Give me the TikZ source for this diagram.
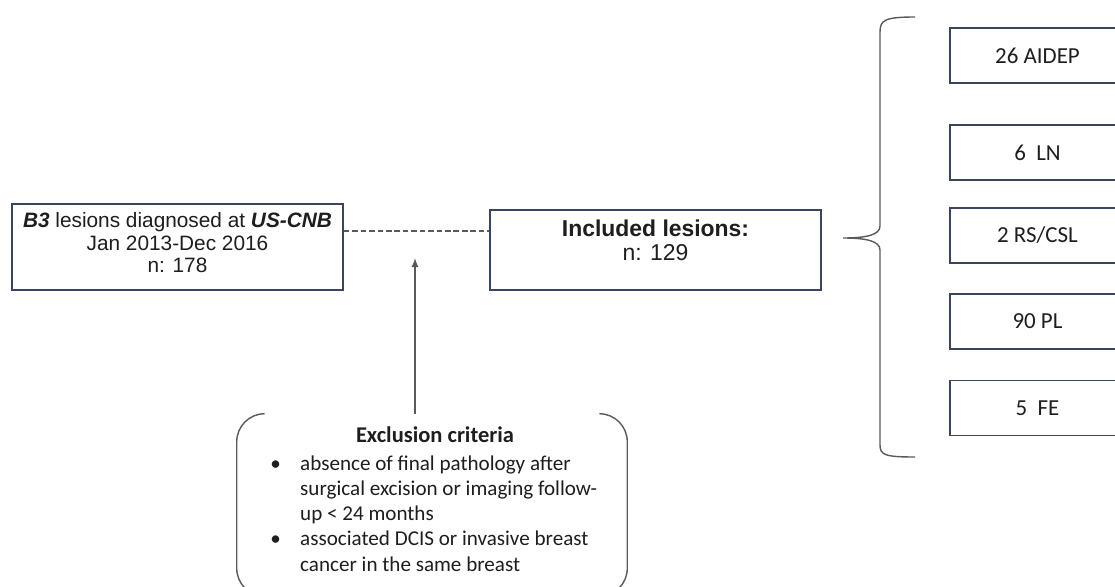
\documentclass[tikz,border=0pt]{standalone}
\usepackage{fontspec}
\setmainfont{Carlito}
\newfontfamily\arialfont{Liberation Sans}
\usepackage{tikz}
\usetikzlibrary{calc}
\usetikzlibrary{arrows}
\usetikzlibrary{positioning}
\definecolor{boxline}{RGB}{58,68,92}
\definecolor{penline}{RGB}{90,90,90}
\definecolor{inktext}{RGB}{30,30,30}
\tikzset{flowbox/.style={rectangle,draw=boxline,line width=1.1pt,fill=white,minimum width=331*0.025cm,inner sep=0pt}}
\tikzset{flowtext/.style={text=inktext,align=center,inner sep=0pt}}
\tikzset{subbox/.style={rectangle,draw=boxline,line width=1.1pt,text=inktext,minimum width=175*0.025cm,minimum height=55*0.025cm,font=\fontsize{16.3}{19}\selectfont}}

\begin{document}
\begin{tikzpicture}[x=0.025cm,y=-0.025cm]
\useasboundingbox (0,0) rectangle (1115,586);
\clip (0,0) rectangle (1115,586);

\node[flowbox,minimum height=86*0.025cm] (src) at (177.5,247) {};
\node[flowtext,font=\arialfont\fontsize{14.8}{16}\selectfont] (srctext) at (177.5,243) {\textbf{\textit{B3}} lesions diagnosed at \textbf{\textit{US-CNB}}\\Jan 2013-Dec 2016\\n: 178};
\node[flowbox,minimum height=80*0.025cm] (incl) at (655.5,250) {};
\node[flowtext,font=\arialfont\fontsize{16.3}{17}\selectfont] (incltext) at (655.5,240) {\textbf{Included lesions:}\\n: 129};
\coordinate (dashy) at (0,231);
\draw[penline,dash pattern=on 4pt off 2pt,line width=0.9pt] (src.east |- dashy) -- (incl.west |- dashy);

% exclusion criteria
\node[minimum width=390*0.025cm,minimum height=182*0.025cm,inner sep=0pt] (excl) at (432,505) {};
\draw[penline,line width=1pt,rounded corners=28*0.025cm] ($(excl.north west)+(28,0)$) -- (excl.north west) -- (excl.south west) -- ($(excl.south west)+(28,0)$);
\draw[penline,line width=1pt,rounded corners=28*0.025cm] ($(excl.north east)+(-28,0)$) -- (excl.north east) -- (excl.south east) -- ($(excl.south east)+(-28,0)$);
\node[text=inktext,font=\bfseries\fontsize{16}{19}\selectfont] (exhead) at (435,435) {Exclusion criteria};
\node[anchor=base west,inner sep=0pt,text=inktext,font=\fontsize{15}{18}\selectfont] (exlist) at (270,470) {%
\begin{tabular}[t]{@{}p{21.3pt}@{}l@{}}
\textbullet & absence of final pathology after\\
 & surgical excision or imaging follow-\\
 & up < 24 months\\
\textbullet & associated DCIS or invasive breast\\
 & cancer in the same breast
\end{tabular}};
\coordinate (armtip) at (415,258);
\draw[-latex,penline,line width=1.2pt] (armtip |- excl.north) -- (armtip);

% brace and subtypes
\coordinate (brtop) at (915,17);
\coordinate (brtip) at (843,238);
\coordinate (brbot) at (915,457);
\draw[penline,line width=1pt] (brtop) .. controls (885,17) and (880,20) .. (880,32) -- (880,226) .. controls (880,235) and (866,238) .. (brtip) .. controls (866,238) and (880,241) .. (880,250) -- (880,445) .. controls (880,455) and (885,457) .. (brbot);

\foreach \i/\lbl/\yc in {1/{26 AIDEP}/55.5, 2/{6~~LN}/152.5, 3/{2 RS/CSL}/235.5, 4/{90 PL}/321.5, 5/{5~~FE}/408} {
	\node[subbox] (L\i) at (1037.5,\yc) {\lbl};
}
\end{tikzpicture}
\end{document}
